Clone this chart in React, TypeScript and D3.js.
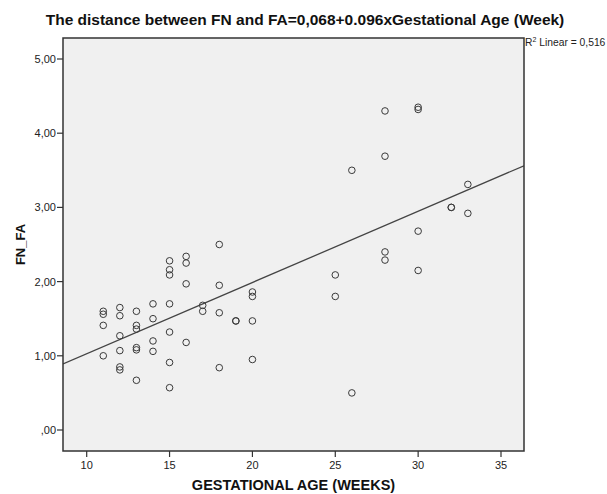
import React, { useEffect } from "react";
import * as d3 from "d3";

const weeks = [
  11, 11, 11, 11,
  12, 12, 12, 12, 12, 12,
  13, 13, 13, 13, 13, 13,
  14, 14, 14, 14,
  15, 15, 15, 15, 15, 15, 15,
  16, 16, 16, 16,
  17, 17,
  18, 18, 18, 18,
  19, 19,
  20, 20, 20, 20,
  25, 25,
  26, 26,
  28, 28, 28, 28,
  30, 30, 30, 30,
  32, 32,
  33, 33,
];
const fnfa = [
  1.6, 1.56, 1.41, 1.0,
  1.65, 1.54, 1.27, 1.07, 0.85, 0.81,
  1.6, 1.41, 1.36, 1.11, 1.08, 0.67,
  1.7, 1.5, 1.2, 1.06,
  2.28, 2.16, 2.09, 1.7, 1.32, 0.91, 0.57,
  2.34, 2.25, 1.97, 1.18,
  1.68, 1.6,
  2.5, 1.95, 1.58, 0.84,
  1.47, 1.47,
  1.86, 1.8, 1.47, 0.95,
  2.09, 1.8,
  3.5, 0.5,
  4.3, 3.69, 2.4, 2.29,
  4.35, 4.32, 2.68, 2.15,
  3.0, 3.0,
  3.31, 2.92,
];
const xTicks = [10, 15, 20, 25, 30, 35];
const yTicks = [0, 1, 2, 3, 4, 5];
const intercept = 0.068;
const slope = 0.096;
const titleText = "The distance between FN and FA=0,068+0.096xGestational Age (Week)";
const xTitle = "GESTATIONAL AGE (WEEKS)";
const yTitle = "FN_FA";
const r2Text = "0,516";

const W = 607;
const H = 494;
const left = 63;
const right = 524;
const top = 38;
const bottom = 451;
const font = "'Liberation Sans', Arial, sans-serif";

export default function App() {
  useEffect(() => {
    document.body.style.margin = "0";
  }, []);
  const x = d3.scaleLinear().domain([10, 35]).range([86.7, 501]);
  const y = d3.scaleLinear().domain([0, 5]).range([430, 59]);
  const xMin = x.invert(left);
  const xMax = x.invert(right);
  const fmtY = (v: number) => (v === 0 ? ",00" : d3.format(".2f")(v).replace(".", ","));
  const lineGen = d3
    .line<number>()
    .x((d) => x(d))
    .y((d) => y(intercept + slope * d));
  return (
    <svg width={W} height={H} style={{ position: "absolute", left: 0, top: 0, background: "#fff" }} fontFamily={font}>
      <text x={305} y={25} textAnchor="middle" fontSize={15.5} fontWeight="bold" fill="#111">
        {titleText}
      </text>
      <rect x={left} y={top} width={right - left} height={bottom - top} fill="#f0f0f0" stroke="none" />
      <defs>
        <clipPath id="plotclip">
          <rect x={left} y={top} width={right - left} height={bottom - top} />
        </clipPath>
      </defs>
      <g clipPath="url(#plotclip)">
        <path d={lineGen([xMin, xMax]) || ""} fill="none" stroke="#444" strokeWidth={1.3} />
        {weeks.map((w, i) => (
          <circle key={i} cx={x(w)} cy={y(fnfa[i])} r={3.3} fill="none" stroke="#3a3a3a" strokeWidth={1} />
        ))}
      </g>
      <rect x={left} y={top} width={right - left} height={bottom - top} fill="none" stroke="#333" strokeWidth={1.5} />
      {yTicks.map((t) => (
        <g key={t}>
          <line x1={left - 6} x2={left} y1={y(t)} y2={y(t)} stroke="#333" strokeWidth={1.2} />
          <text x={left - 7} y={y(t) + 4} textAnchor="end" fontSize={11} fill="#222">
            {fmtY(t)}
          </text>
        </g>
      ))}
      {xTicks.map((t) => (
        <g key={t}>
          <line x1={x(t)} x2={x(t)} y1={bottom} y2={bottom + 6} stroke="#333" strokeWidth={1.2} />
          <text x={x(t)} y={bottom + 18} textAnchor="middle" fontSize={11} fill="#222">
            {t}
          </text>
        </g>
      ))}
      <text x={(left + right) / 2} y={490} textAnchor="middle" fontSize={14.5} fontWeight="bold" fill="#111">
        {xTitle}
      </text>
      <text
        transform={`translate(25, ${(top + bottom) / 2}) rotate(-90)`}
        textAnchor="middle"
        fontSize={13}
        fontWeight="bold"
        fill="#111"
      >
        {yTitle}
      </text>
      <text x={525} y={46} fontSize={10.3} fill="#222">
        R<tspan fontSize={7} dy={-4}>2</tspan>
        <tspan dy={4}> Linear = {r2Text}</tspan>
      </text>
    </svg>
  );
}
